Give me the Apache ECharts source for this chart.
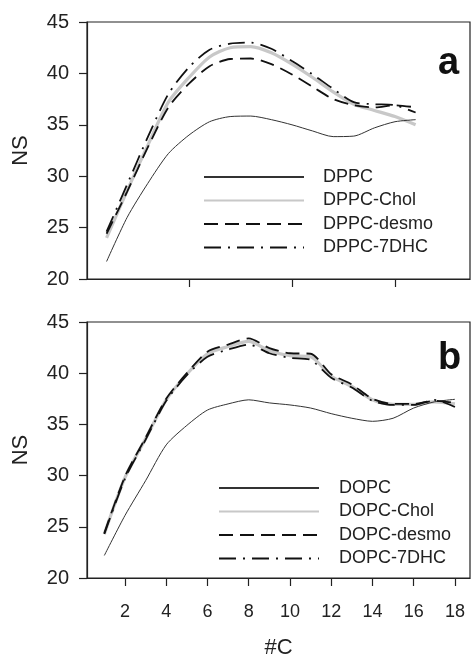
<!DOCTYPE html>
<html>
<head>
<meta charset="utf-8">
<script src="https://cdn.jsdelivr.net/npm/echarts@6/dist/echarts.min.js"></script>
<style>
html,body{margin:0;padding:0;background:#fff;}
#c{width:473px;height:660px;}
</style>
</head>
<body>
<div id="c"></div>
<script>
// ---- data ----
const xTop = [1,2,3,4,5,6,7,8,9,10,11,12,13,14,15,16];
const DPPC       = [21.7,26.0,29.3,32.2,34.0,35.3,35.8,35.85,35.5,35.0,34.4,33.85,33.9,34.7,35.3,35.5];
const DPPC_Chol  = [24.0,28.6,33.0,37.2,39.6,41.6,42.5,42.6,42.0,40.9,39.6,38.2,37.0,36.4,35.8,35.0];
const DPPC_desmo = [24.4,28.5,32.8,36.7,39.0,40.7,41.4,41.45,40.9,39.9,38.7,37.5,36.9,36.7,36.9,36.7];
const DPPC_7DHC  = [24.6,29.2,33.8,38.0,40.6,42.3,42.9,43.0,42.4,41.2,39.9,38.5,37.2,37.0,36.9,36.2];

const xBot = [1,2,3,4,5,6,7,8,9,10,11,12,13,14,15,16,17,18];
const DOPC       = [22.2,26.1,29.5,33.0,34.9,36.4,37.0,37.4,37.1,36.9,36.6,36.05,35.6,35.3,35.6,36.6,37.2,37.45];
const DOPC_Chol  = [24.3,29.8,33.6,37.4,39.9,41.9,42.6,43.1,42.2,41.7,41.6,39.7,38.7,37.4,36.95,36.95,37.2,37.0];
const DOPC_desmo = [24.4,29.9,33.7,37.5,40.0,42.1,42.8,43.4,42.45,41.95,41.9,39.9,38.9,37.5,37.0,37.0,37.3,37.1];
const DOPC_7DHC  = [24.3,29.7,33.5,37.3,39.8,41.6,42.3,42.8,41.95,41.5,41.3,39.55,38.6,37.3,36.9,36.9,37.4,36.7];

const namesTop = ['DPPC','DPPC-Chol','DPPC-desmo','DPPC-7DHC'];
const namesBot = ['DOPC','DOPC-Chol','DOPC-desmo','DOPC-7DHC'];
const topTicks = [5,10,15];
const botTicks = [2,4,6,8,10,12,14,16,18];
const panelLabels = ['a','b'];

// ---- styles ----
const FONT = 'Liberation Sans, Arial, Helvetica, sans-serif';
const styles = [
  {color:'#333', width:1, type:'solid'},
  {color:'#c8c8c8', width:3.2, type:'solid'},
  {color:'#111', width:1.8, type:[14,7]},
  {color:'#111', width:1.8, type:[17,7,2,7]}
];

function pairs(xs, ys){ return xs.map((x,i)=>[x, ys[i]]); }

function mkSeries(names, xs, arrs, idx){
  return names.map((n,i)=>({
    name:n, type:'line', xAxisIndex:idx, yAxisIndex:idx,
    data:pairs(xs, arrs[i]), symbol:'none', smooth:0.25,
    lineStyle:{color:styles[i].color, width:styles[i].width, type:styles[i].type},
    itemStyle:{color:styles[i].color},
    z: i===1 ? 1 : 2,
    emphasis:{disabled:true}, silent:true
  }));
}

const axisCommon = {
  axisLine:{show:true, onZero:false, lineStyle:{color:'#222', width:1.2}},
  axisTick:{show:true, inside:false, length:8, lineStyle:{color:'#222', width:1.2}},
  splitLine:{show:false}
};

function yAxis(idx){
  return Object.assign({}, axisCommon, {
    type:'value', gridIndex:idx, min:20, max:45, interval:5,
    name:'NS', nameLocation:'middle', nameGap:55,
    nameTextStyle:{fontFamily:FONT, fontSize:22, color:'#222'},
    axisLabel:{fontFamily:FONT, fontSize:20, color:'#222', margin:18}
  });
}

const legendCommon = {
  orient:'vertical', itemWidth:100, itemHeight:14, itemGap:5.5,
  itemStyle:{opacity:0},
  selectedMode:false
};

const option = {
  animation:false,
  backgroundColor:'#fff',
  grid:[
    {left:87, top:22, width:383, height:257, show:true, borderColor:'#222', borderWidth:1.2, containLabel:false},
    {left:87, top:322, width:383, height:258, show:true, borderColor:'#222', borderWidth:1.2, containLabel:false}
  ],
  xAxis:[
    Object.assign({}, axisCommon, {
      type:'value', gridIndex:0, min:0.05, max:18.64,
      axisTick:{show:true, length:8, customValues:topTicks, lineStyle:{color:'#222', width:1.2}},
      axisLabel:{show:false, customValues:topTicks}
    }),
    Object.assign({}, axisCommon, {
      type:'value', gridIndex:1, min:0.16, max:18.73,
      name:'#C', nameLocation:'middle', nameGap:59,
      nameTextStyle:{fontFamily:FONT, fontSize:22, color:'#222'},
      axisTick:{show:true, length:8, customValues:botTicks, lineStyle:{color:'#222', width:1.2}},
      axisLabel:{fontFamily:FONT, fontSize:18, color:'#222', margin:25, customValues:botTicks}
    })
  ],
  yAxis:[yAxis(0), yAxis(1)],
  legend:[
    Object.assign({}, legendCommon, {
      data:namesTop, left:198, top:163,
      textStyle:{fontFamily:FONT, fontSize:18, color:'#222', padding:[0,0,0,14]}
    }),
    Object.assign({}, legendCommon, {
      data:namesBot, left:213, top:474,
      textStyle:{fontFamily:FONT, fontSize:18, color:'#222', padding:[0,0,0,15]}
    })
  ],
  graphic:[
    {type:'text', left:438, top:45, style:{text:panelLabels[0], font:'bold 38px '+FONT, fill:'#111'}},
    {type:'text', left:438, top:340, style:{text:panelLabels[1], font:'bold 38px '+FONT, fill:'#111'}}
  ],
  series: mkSeries(namesTop, xTop, [DPPC,DPPC_Chol,DPPC_desmo,DPPC_7DHC], 0)
    .concat(mkSeries(namesBot, xBot, [DOPC,DOPC_Chol,DOPC_desmo,DOPC_7DHC], 1))
};

const chart = echarts.init(document.getElementById('c'), null, {renderer:'canvas'});
chart.setOption(option);
</script>
</body>
</html>
